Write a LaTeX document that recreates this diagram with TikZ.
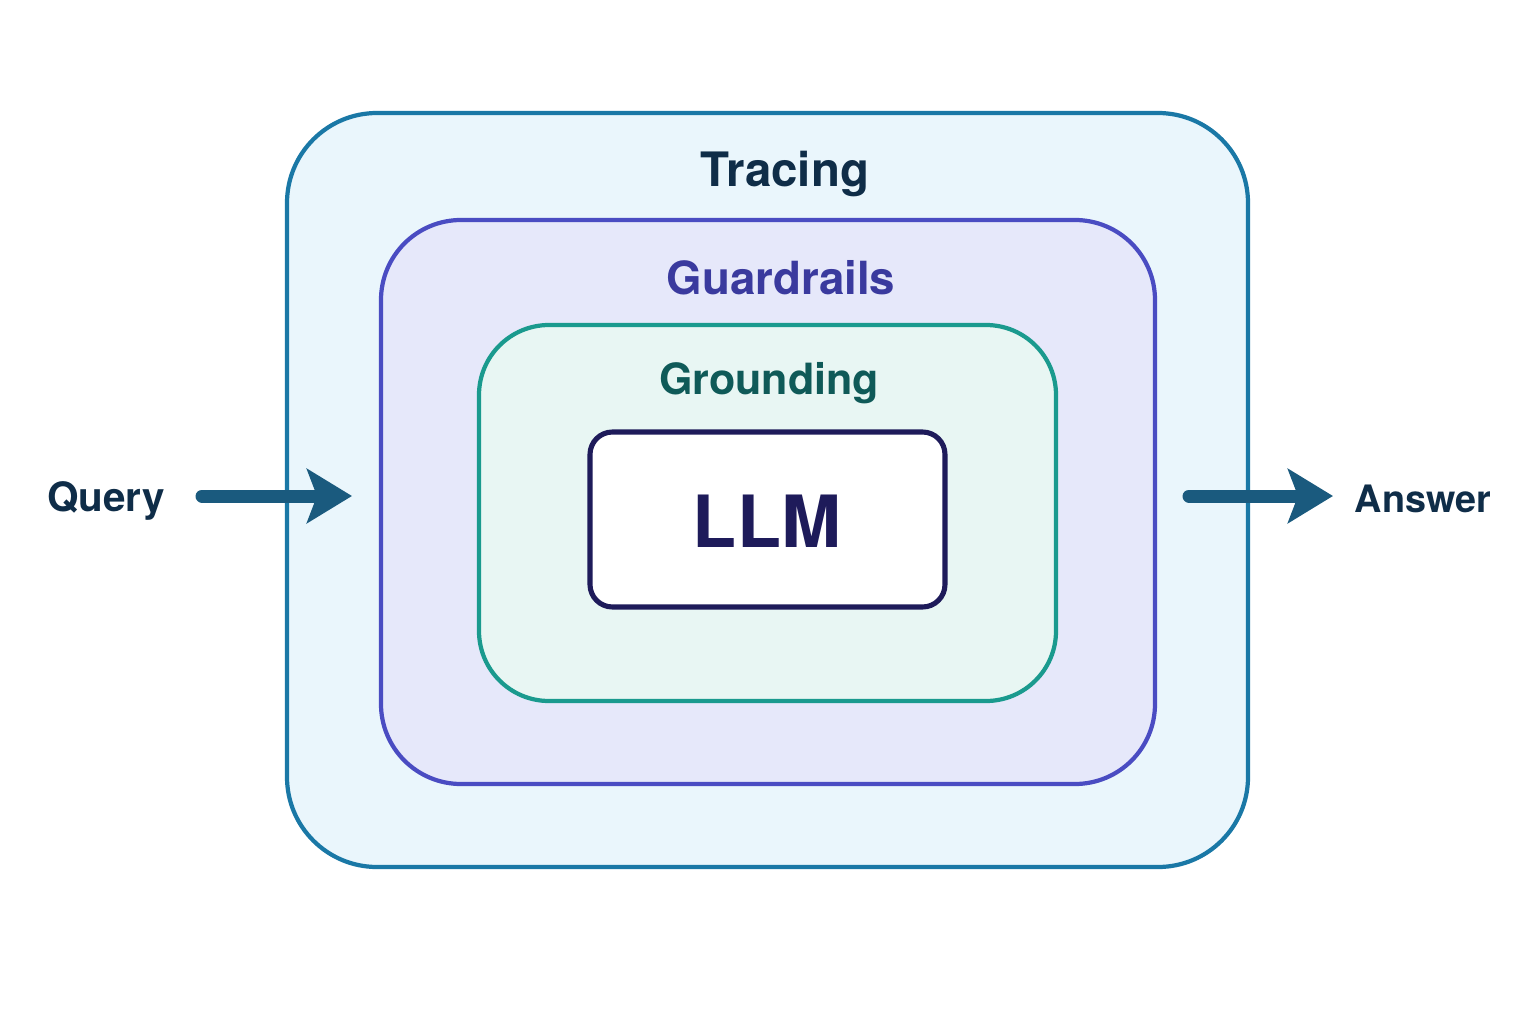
\documentclass[tikz,border=0pt]{standalone}
\usepackage{fontspec}
\setmainfont{TeX Gyre Heros}
\usetikzlibrary{arrows.meta}
\definecolor{traceline}{HTML}{1A78A6}
\definecolor{tracefill}{HTML}{EAF6FC}
\definecolor{guardline}{HTML}{4A4CC2}
\definecolor{guardfill}{HTML}{E6E8FA}
\definecolor{groundline}{HTML}{1A9A8E}
\definecolor{groundfill}{HTML}{E8F6F3}
\definecolor{llmline}{HTML}{1E1B5A}
\definecolor{navytext}{HTML}{0F2D48}
\definecolor{guardtext}{HTML}{3A3A9E}
\definecolor{groundtext}{HTML}{0F5A58}
\definecolor{flowcol}{HTML}{1A5A7E}
\begin{document}
\begin{tikzpicture}[x=0.02cm, y=-0.02cm,
        layer/.style={line width=2.4pt},
        title/.style={font={\fontsize{27}{30}\selectfont\bfseries}},
        io/.style={font={\fontsize{23}{26}\selectfont\bfseries}, text=navytext},
        flow/.style={draw=flowcol, line width=7.4pt, line cap=round,
            -{Stealth[length=0.9cm, width=1.08cm, inset=0.2cm]}}
    ]
    \useasboundingbox (0,0) rectangle (1536,1024);
    % nested layers, outermost first
    \draw[layer, draw=traceline, fill=tracefill, rounded corners=1.8cm]
        (287,113) rectangle (1248,867);
    \draw[layer, draw=guardline, fill=guardfill, rounded corners=1.6cm]
        (381,220) rectangle (1155,784);
    \draw[layer, draw=groundline, fill=groundfill, rounded corners=1.4cm]
        (479,325) rectangle (1056,701);
    \draw[line width=2.9pt, draw=llmline, fill=white, rounded corners=0.45cm]
        (590,432) rectangle (945,607);

    \node[title, text=navytext] (tracing) at (785,174) {Tracing};
    \node[title, text=guardtext, font={\fontsize{26}{29}\selectfont\bfseries}] (guardrails) at (781,278) {Guardrails};
    \node[title, text=groundtext, font={\fontsize{24.5}{27}\selectfont\bfseries}] (grounding) at (769,383) {Grounding};
    \node[font={\fontsize{41}{44}\selectfont\bfseries}, text=llmline] (llm) at (767,521) {LLM};

    % input and output
    \node[io] (query) at (106,501) {Query};
    \node[io, font={\fontsize{21.5}{24}\selectfont\bfseries}] (answer) at (1423,499) {Answer};
    \coordinate (qin) at (202,496);
    \coordinate (qtip) at (352,496);
    \coordinate (aout) at (1189,496);
    \coordinate (atip) at (1333,496);
    \draw[flow] (qin) -- (qtip);
    \draw[flow] (aout) -- (atip);
\end{tikzpicture}
\end{document}
